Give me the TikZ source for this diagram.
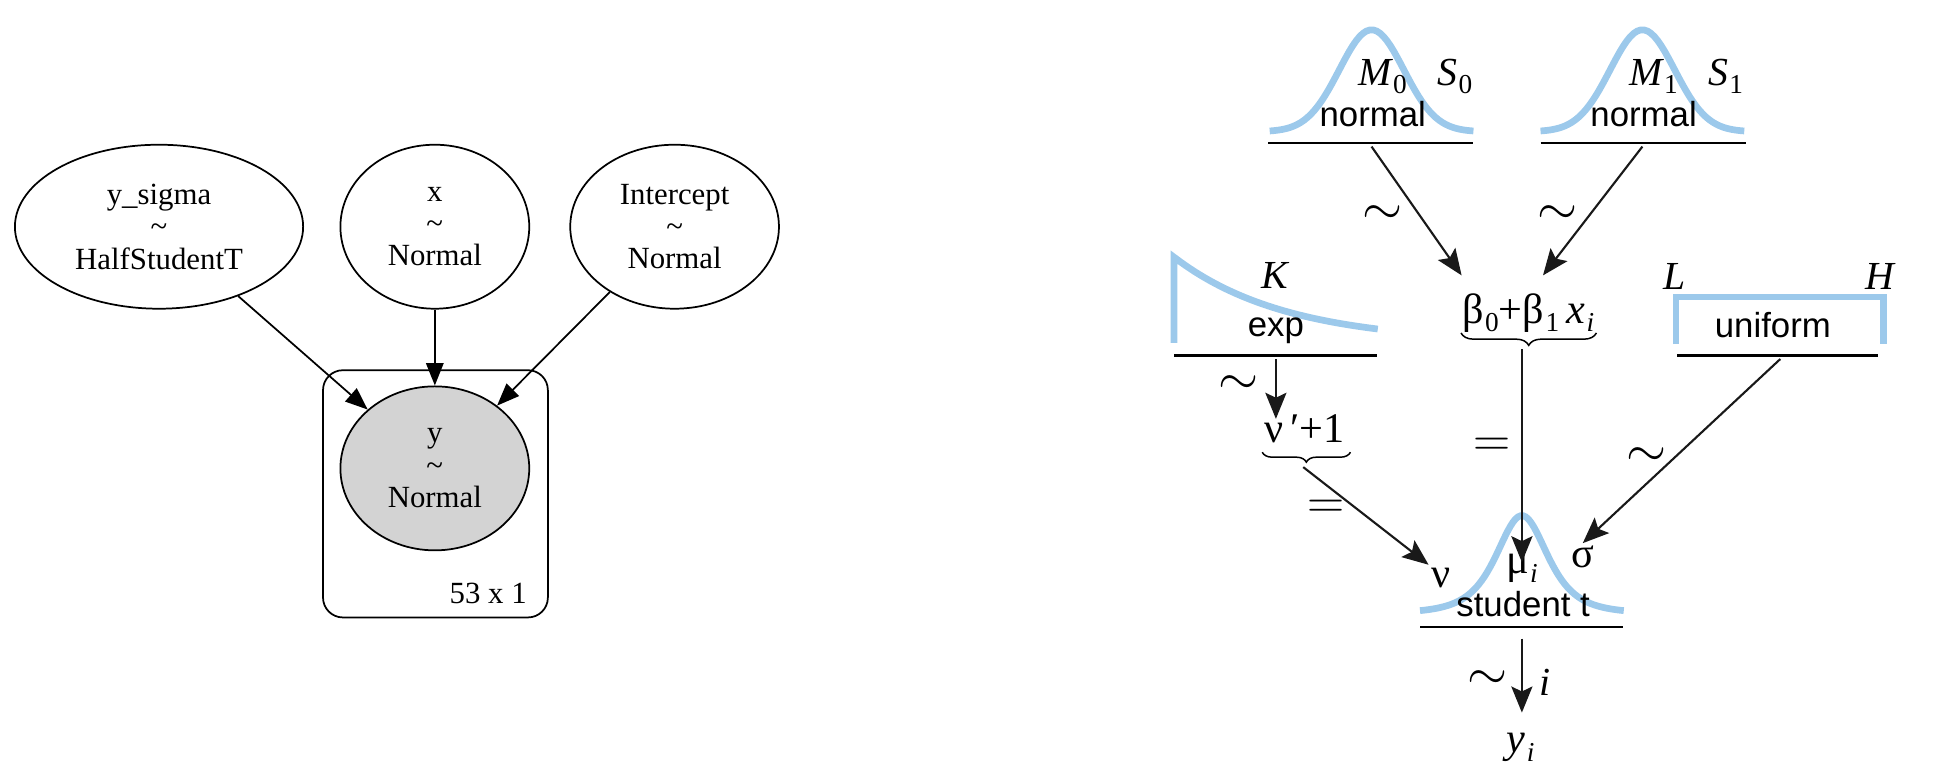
\documentclass[tikz,border=0pt]{standalone}
\usepackage{fontspec}
\setmainfont{Liberation Serif}
\setsansfont{Liberation Sans}
\usetikzlibrary{shapes.geometric,arrows.meta,decorations.pathreplacing}
\definecolor{distblue}{RGB}{156,201,235}
\definecolor{obsgray}{RGB}{211,211,211}
\newcommand{\lowsub}[1]{\kern0.6pt\raisebox{-0.45ex}{\upshape\fontsize{11}{11}\selectfont #1}}

\begin{document}
\begin{tikzpicture}[x=0.5pt,y=-0.5pt,
  rv/.style={ellipse, draw, line width=0.7pt, inner sep=0pt, minimum height=66pt, align=center, font=\fontsize{12.4}{13}\selectfont},
  obs/.style={rv, fill=obsgray},
  plate/.style={draw, line width=0.7pt, rounded corners=8pt, minimum width=90.5pt, minimum height=99.5pt},
  garr/.style={-{Triangle[length=9pt,width=7pt]}, line width=0.7pt},
  dist/.style={distblue, line width=2.7pt},
  bar/.style={line width=1pt},
  arr/.style={-{Stealth[length=10.5pt,width=8.5pt,inset=2pt]}, line width=0.85pt, black!90},
  dname/.style={font=\sffamily\fontsize{14}{14}\selectfont, anchor=base, inner sep=1pt},
  par/.style={font=\fontsize{16}{16}\selectfont\itshape, anchor=base, inner sep=1pt},
  expr/.style={font=\fontsize{17}{17}\selectfont, anchor=base, inner sep=1pt},
  rel/.style={font=\fontsize{21}{21}\selectfont, inner sep=0pt},
  ubrace/.style={decorate, decoration={brace, mirror, amplitude=5pt}, line width=0.6pt},
]
\useasboundingbox (0,0) rectangle (1568,629.6);

% pymc graph
\node[rv, minimum width=116pt] (ysig) at (128,182.5) {y\_sigma\\\textasciitilde\\HalfStudentT};
\node[rv, minimum width=76pt] (xv) at (350,182.5) {x\\\textasciitilde\\Normal};
\node[rv, minimum width=84pt] (icpt) at (543,182.5) {Intercept\\\textasciitilde\\Normal};
\node[plate] (plate) at (350.5,397.5) {};
\node[obs, minimum width=76pt] (yobs) at (350,377) {y\\\textasciitilde\\Normal};
\node[font=\fontsize{12.4}{13}\selectfont] (pn) at (393,478) {53 x 1};
\draw[garr] (ysig) -- (yobs);
\draw[garr] (xv) -- (yobs);
\draw[garr] (icpt) -- (yobs);

% top priors
\draw[dist] plot[domain=-82:82, samples=60] ({1104+\x},{106-82*exp(-(\x*\x)/1352)});
\draw[bar] (1021,115) -- (1186,115);
\node[dname] (dn0) at (1105,102) {normal};
\node[par] (m0) at (1113,69) {M\lowsub{0}};
\node[par] (s0) at (1171,69) {S\lowsub{0}};
\coordinate (n0) at (1104,118);

\draw[dist] plot[domain=-82:82, samples=60] ({1322+\x},{106-82*exp(-(\x*\x)/1352)});
\draw[bar] (1240,115) -- (1405,115);
\node[dname] (dn1) at (1323,102) {normal};
\node[par] (m1) at (1331,69) {M\lowsub{1}};
\node[par] (s1) at (1389,69) {S\lowsub{1}};
\coordinate (n1) at (1322,118);

% exp and uniform
\draw[dist] (945,276) -- plot[domain=0:164, samples=40] ({945+\x},{276-69*exp(-\x/90)});
\draw[bar] (945,286) -- (1108,286);
\node[dname] (dex) at (1027,271) {exp};
\node[par] (kk) at (1026,232) {K};
\coordinate (ex) at (1027,289);

\draw[dist] (1349,277) -- (1349,239) -- (1516,239) -- (1516,277);
\draw[bar] (1350,286) -- (1512,286);
\node[dname] (dun) at (1427,272) {uniform};
\node[par] (lo) at (1348,233) {L};
\node[par] (hi) at (1513,233) {H};
\coordinate (un) at (1433,289);

% middle terms
\node[expr] (lin) at (1230,260) {β\lowsub{0}+β\lowsub{1}\,\textit{x}\lowsub{\textit{i}}};
\draw[ubrace] (1176,268) -- (1285,268);
\coordinate (lb) at (1225,281);

\node[expr] (nup) at (1050,356) {ν\,′+1};
\draw[ubrace, decoration={amplitude=4pt}] (1016,364) -- (1087,364);
\coordinate (nb) at (1049,376);

% likelihood
\draw[dist] plot[domain=-82:82, samples=80] ({1225+\x},{494-79/((1+\x*\x/1452)^2)});
\draw[bar] (1143,504.6) -- (1306,504.6);
\node[dname] (dst) at (1226,496.6) {student t};
\node[expr] (mu) at (1225,461.6) {μ\lowsub{\textit{i}}};
\node[expr] (sig) at (1274,457) {σ};
\node[expr] (nu) at (1160,472.6) {ν};
\coordinate (st) at (1225,514);
\node[expr] (yi) at (1224,605.6) {\textit{y}\lowsub{\textit{i}}};

\draw[arr] (n0) -- ([shift={(1pt,6pt)}]lin.north west);
\draw[arr] (n1) -- ([shift={(6pt,6pt)}]lin.north);
\draw[arr, shorten >=-3pt] (ex) -- (ex |- nup.north);
\draw[arr, shorten >=-4.5pt] (lb) -- (lb |- mu.north);
\draw[arr] (un) -- (sig.north);
\draw[arr] (nb) -- (nu.north west);
\draw[arr, shorten >=7pt] (st) -- (st |- yi.north);

\node[rel] (r0) at (1113,173) {$\sim$};
\node[rel] (r1) at (1254,173) {$\sim$};
\node[rel] (r2) at (997,310) {$\sim$};
\node[rel] (r3) at (1325,368) {$\sim$};
\node[rel] (r4) at (1197,547.5) {$\sim$};
\node[rel] (r5) at (1201,360) {$=$};
\node[rel] (r6) at (1067,410) {$=$};
\node[par] (ri) at (1244,559.6) {i};
\end{tikzpicture}
\end{document}
